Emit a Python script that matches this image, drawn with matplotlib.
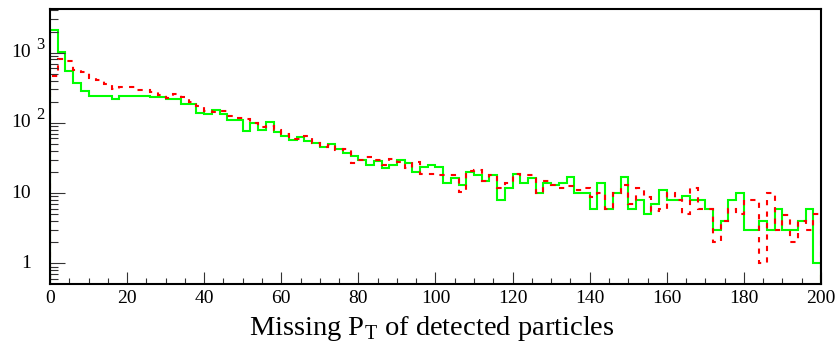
import numpy as np
import matplotlib.pyplot as plt
from matplotlib.ticker import LogLocator, MultipleLocator, NullFormatter
from matplotlib.transforms import blended_transform_factory

# Missing PT histograms, 100 bins of width 2 between 0 and 200
bin_edges = np.arange(0, 202, 2)

green_counts = [
    2080, 1010, 541, 369, 280, 238, 238, 238, 218, 243,
    238, 238, 243, 230, 230, 218, 218, 187, 187, 140,
    134, 152, 134, 110, 110, 76, 99, 80, 102, 73,
    64, 57, 62, 56, 52, 46, 50, 42.5, 37, 34,
    29.6, 25, 29, 23, 25, 30, 26.6, 20.2, 23.3, 25,
    23.3, 13.7, 16.2, 13, 20.2, 18, 14.8, 18, 7.9, 12,
    19, 14, 16.2, 10.1, 14, 13, 14, 17.1, 10.1, 10.1,
    6, 13.7, 6, 10.1, 17.1, 6, 7.9, 5, 7.1, 11,
    7.9, 7.9, 9, 7.9, 7.9, 6, 3, 4, 7.9, 10.1,
    3, 3, 4, 3, 6, 3, 3, 4, 6, 1,
]

red_counts = [
    470, 813, 752, 571, 523, 435, 411, 361, 303, 320,
    320, 290, 290, 271, 251, 225, 255, 230, 201, 175,
    150, 145, 148, 126, 117, 114, 100, 86, 90, 78,
    70, 59, 59, 65, 52, 46, 48, 41, 42, 27,
    30, 33, 30, 25, 31, 28, 23, 28, 19, 19,
    18, 18, 18, 10.2, 20.8, 21, 15, 18, 12, 13.7,
    19, 18, 18, 10, 14.8, 13, 12, 12.5, 11, 12,
    8.9, 10.1, 6, 10, 13, 7.1, 12, 8.9, 5.6, 6,
    10.1, 8, 5, 12, 6, 6, 2, 4, 6, 5,
    7.9, 7.9, 1, 10.1, 3, 4.8, 2, 4, 3, 5,
]

x_ticks = [0, 20, 40, 60, 80, 100, 120, 140, 160, 180, 200]
y_decades = [1, 10, 100, 1000]
y_base = ['1', '10', '10', '10']
y_exp = ['', '', '2', '3']

plt.rcParams['font.family'] = ['Liberation Serif', 'DejaVu Serif']
plt.rcParams['mathtext.fontset'] = 'custom'
plt.rcParams['mathtext.rm'] = 'Liberation Serif'

fig = plt.figure(figsize=(8.39, 3.48), dpi=100)
ax = fig.add_axes([50 / 839, 1 - 284 / 348, 771 / 839, 275 / 348])

ax.stairs(green_counts, bin_edges, baseline=1e-3, color='#00ff00', linewidth=1.5)
ax.stairs(red_counts, bin_edges, baseline=1e-3, color='#ff0000', linewidth=1.5,
          linestyle=(0, (2.5, 3)))

ax.set_yscale('log')
ax.set_xlim(0, 200)
ax.set_ylim(0.507, 4190)

ax.set_xticks(x_ticks)
ax.xaxis.set_minor_locator(MultipleLocator(5))
ax.yaxis.set_major_locator(LogLocator(base=10, numticks=10))
ax.yaxis.set_minor_locator(LogLocator(base=10, subs=np.arange(2, 10), numticks=10))
ax.yaxis.set_major_formatter(NullFormatter())
ax.yaxis.set_minor_formatter(NullFormatter())

ax.tick_params(which='both', direction='in', top=False, right=False, width=0.8, color='#333333')
ax.tick_params(axis='x', which='major', length=8.4, labelsize=14, pad=4)
ax.tick_params(axis='x', which='minor', length=4.1)
ax.tick_params(axis='y', which='major', length=10.8)
ax.tick_params(axis='y', which='minor', length=5.5)

for spine in ax.spines.values():
    spine.set_linewidth(1.5)

# y labels in ROOT style: base right-aligned, exponent to the right
trans = blended_transform_factory(fig.transFigure, ax.transData)
for v, b, e in zip(y_decades, y_base, y_exp):
    ax.text(31 / 839, v, b, transform=trans, ha='right', va='center', fontsize=14)
    if e:
        ax.text(36 / 839, v * 1.3, e, transform=trans, ha='left', va='center', fontsize=12)

fig.text(431.5 / 839, 1 - 335 / 348, r'Missing P$_\mathregular{T}$ of detected particles',
         ha='center', va='baseline', fontsize=20.5)

fig.savefig('out.png', dpi=100)
